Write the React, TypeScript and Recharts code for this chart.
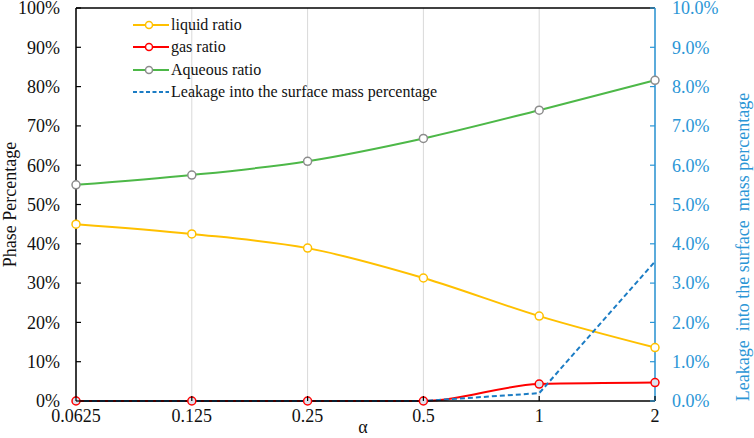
import React from 'react';
import { LineChart, Line, XAxis, YAxis, CartesianGrid, Legend, ReferenceLine } from 'recharts';

const categories = ['0.0625', '0.125', '0.25', '0.5', '1', '2'];
const liquidRatio = [45.0, 42.5, 38.9, 31.3, 21.6, 13.6];
const gasRatio = [0, 0, 0, 0, 4.3, 4.7];
const aqueousRatio = [55.0, 57.5, 61.0, 66.8, 74.0, 81.6];
const leakagePct = [0, 0, 0, 0, 0.2, 3.55];
const leftTicks = [0, 10, 20, 30, 40, 50, 60, 70, 80, 90, 100];
const rightTicks = [0, 1, 2, 3, 4, 5, 6, 7, 8, 9, 10];
const legendOrder = ['liquid', 'gas', 'aqueous', 'leakage'];

const data = categories.map((c, i) => ({
  alpha: c,
  liquid: liquidRatio[i],
  gas: gasRatio[i],
  aqueous: aqueousRatio[i],
  leakage: leakagePct[i],
}));

const FONT = 'Liberation Serif, "DejaVu Serif", serif';
const BLUE_AXIS = '#2B96D6';
const BLUE_LINE = '#1B7CC4';
const YELLOW = '#FFC000';
const RED = '#FF0000';
const GREEN = '#4DB848';
const GRAY = '#8C8C8C';

const legendStyle: Record<string, { color: string; dot?: string; dash?: string }> = {
  liquid: { color: YELLOW, dot: YELLOW },
  gas: { color: RED, dot: RED },
  aqueous: { color: GREEN, dot: GRAY },
  leakage: { color: BLUE_LINE, dash: '4 2.5' },
};

const XTick = (props: any) => {
  const { x, y, payload } = props;
  return (
    <g>
      <line x1={x} y1={y} x2={x} y2={y - 5} stroke="#000" strokeWidth={1.2} />
      <text x={x} y={y + 21} textAnchor="middle" style={{ fontFamily: FONT }} fontSize={18} fill="#111">
        {payload.value}
      </text>
    </g>
  );
};

const LeftTick = (props: any) => {
  const { x, y, payload } = props;
  return (
    <g>
      <line x1={x} y1={y} x2={x + 5} y2={y} stroke="#000" strokeWidth={1.2} />
      <text x={x - 16} y={y} dy="0.35em" textAnchor="end" style={{ fontFamily: FONT }} fontSize={18} fill="#111">
        {payload.value + '%'}
      </text>
    </g>
  );
};

const RightTick = (props: any) => {
  const { x, y, payload } = props;
  return (
    <g>
      <line x1={x} y1={y} x2={x - 5} y2={y} stroke={BLUE_AXIS} strokeWidth={1.2} />
      <text x={x + 17} y={y} dy="0.35em" textAnchor="start" style={{ fontFamily: FONT }} fontSize={18} fill={BLUE_AXIS}>
        {Number(payload.value).toFixed(1) + '%'}
      </text>
    </g>
  );
};

const renderLegend = (props: any) => {
  const payload = [...(props.payload || [])].sort(
    (a: any, b: any) => legendOrder.indexOf(a.dataKey) - legendOrder.indexOf(b.dataKey)
  );
  return (
    <div style={{ fontFamily: FONT, fontSize: 16, color: '#111' }}>
      {payload.map((entry: any) => {
        const s = legendStyle[entry.dataKey] || { color: entry.color };
        return (
          <div key={entry.dataKey} style={{ display: 'flex', alignItems: 'center', height: 22.3, whiteSpace: 'nowrap' }}>
            <svg width={36} height={12} style={{ marginRight: 2 }}>
              <line x1={0} y1={6} x2={36} y2={6} stroke={s.color} strokeWidth={2} strokeDasharray={s.dash} />
              {s.dot && <circle cx={16} cy={6} r={3.5} fill="#fff" stroke={s.dot} strokeWidth={1.5} />}
            </svg>
            <span>{entry.value}</span>
          </div>
        );
      })}
    </div>
  );
};

export default function App() {
  return (
    <div style={{ position: 'absolute', left: 0, top: 0, width: 754, height: 438, background: '#fff', fontFamily: FONT }}>
      <LineChart width={754} height={438} data={data} margin={{ top: 8, right: 0, bottom: 0, left: 0 }}>
        <CartesianGrid horizontal={false} vertical stroke="#D9D9D9" strokeWidth={1} />
        <XAxis
          dataKey="alpha"
          height={37}
          tickSize={0}
          tickMargin={0}
          tickLine={false}
          tick={<XTick />}
          axisLine={{ stroke: '#000', strokeWidth: 1.5 }}
          interval={0}
          label={{
            content: () => (
              <text x={363} y={433} textAnchor="middle" style={{ fontFamily: FONT }} fontSize={18} fill="#111">
                α
              </text>
            ),
          }}
        />
        <YAxis
          yAxisId="left"
          orientation="left"
          width={76}
          domain={[0, 100]}
          ticks={leftTicks}
          interval={0}
          tickSize={0}
          tickMargin={0}
          tickLine={false}
          tick={<LeftTick />}
          axisLine={{ stroke: '#000', strokeWidth: 1.5 }}
          label={{
            content: (p: any) => {
              const vb = p.viewBox || { y: 8, height: 393 };
              const cy = vb.y + vb.height / 2;
              return (
                <text x={10} y={cy} transform={`rotate(-90 10 ${cy})`} textAnchor="middle" dominantBaseline="central" style={{ fontFamily: FONT }} fontSize={18} fill="#111">
                  Phase Percentage
                </text>
              );
            },
          }}
        />
        <YAxis
          yAxisId="right"
          orientation="right"
          width={99}
          domain={[0, 10]}
          ticks={rightTicks}
          interval={0}
          tickSize={0}
          tickMargin={0}
          tickLine={false}
          tick={<RightTick />}
          axisLine={{ stroke: BLUE_AXIS, strokeWidth: 1.5 }}
          label={{
            content: () => (
              <text x={743} y={247} transform="rotate(-90 743 247)" textAnchor="middle" dominantBaseline="central" style={{ fontFamily: FONT, whiteSpace: 'pre' }} fontSize={18} fill={BLUE_AXIS}>
                {'Leakage  into the surface  mass percentage'}
              </text>
            ),
          }}
        />
        <ReferenceLine yAxisId="left" y={100} stroke="#000" strokeWidth={1.5} />
        <Legend
          layout="vertical"
          align="center"
          verticalAlign="middle"
          content={renderLegend}
          wrapperStyle={{ position: 'absolute', left: 133, top: 14, width: 340 }}
        />
        <Line
          yAxisId="left"
          type="monotone"
          dataKey="liquid"
          name="liquid ratio"
          stroke={YELLOW}
          strokeWidth={2}
          dot={{ r: 4, fill: '#fff', stroke: YELLOW, strokeWidth: 1.5 }}
          isAnimationActive={false}
        />
        <Line
          yAxisId="left"
          type="monotone"
          dataKey="gas"
          name="gas ratio"
          stroke={RED}
          strokeWidth={2}
          dot={{ r: 4, fill: '#DDE3EE', stroke: RED, strokeWidth: 1.5 }}
          isAnimationActive={false}
        />
        <Line
          yAxisId="left"
          type="monotone"
          dataKey="aqueous"
          name="Aqueous ratio"
          stroke={GREEN}
          strokeWidth={2}
          dot={{ r: 4, fill: '#fff', stroke: GRAY, strokeWidth: 1.5 }}
          isAnimationActive={false}
        />
        <Line
          yAxisId="right"
          type="linear"
          dataKey="leakage"
          name="Leakage into the surface mass percentage"
          stroke={BLUE_LINE}
          strokeWidth={2}
          strokeDasharray="5 3"
          dot={false}
          isAnimationActive={false}
        />
      </LineChart>
    </div>
  );
}
